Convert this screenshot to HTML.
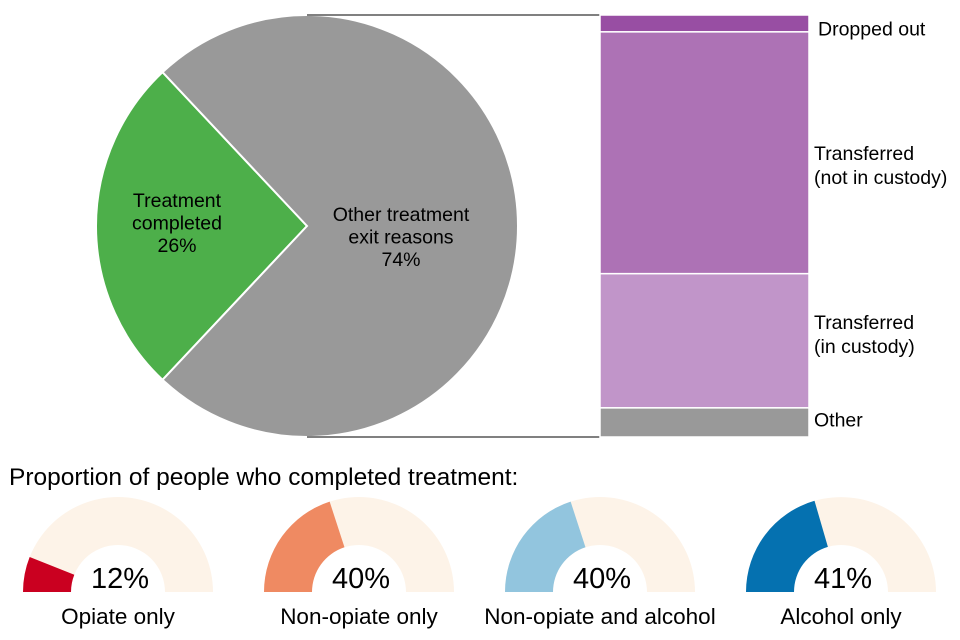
<!DOCTYPE html>
<html><head><meta charset="utf-8"><style>
body{margin:0;background:#fff;font-family:"Liberation Sans",Arial,sans-serif;}
svg{display:block}
</style></head><body>
<svg width="960" height="640">
<g id="pie"></g>
<g id="bar"></g>
<text x="9" y="485" font-size="24.5" fill="#000">Proportion of people who completed treatment:</text>
<g id="gauges"></g>
</svg>
<script>
const pieLabels=["Treatment completed","Other treatment exit reasons"];
const pieValues=[26,74];
const barCats=["Dropped out","Transferred (not in custody)","Transferred (in custody)","Other"];
const barValues=[4,57.3,31.8,6.9];
const gaugeCats=["Opiate only","Non-opiate only","Non-opiate and alcohol","Alcohol only"];
const gaugeValues=[12,40,40,41];

const NS="http://www.w3.org/2000/svg";
function mk(tag,attrs,parent){const e=document.createElementNS(NS,tag);for(const k in attrs)e.setAttribute(k,attrs[k]);parent.appendChild(e);return e;}
function txt(parent,x,y,lines,size,anchor,lh){const t=mk('text',{x:x,y:y,'font-size':size,'text-anchor':anchor,fill:'#000'},parent);lines.forEach((l,i)=>{const s=mk('tspan',{x:x,dy:i?lh:0},t);s.textContent=l;});return t;}

// pie
const pie=document.getElementById('pie');
const cx=307,cy=226,R=211;
const tot=pieValues.reduce((a,b)=>a+b,0);
const half=pieValues[0]/tot*Math.PI;
let a0=Math.PI-half;
const pieColors=["#4daf4a","#999999"];
pieValues.forEach((v,i)=>{
 const sweep=v/tot*2*Math.PI;
 const a1=a0+sweep;
 const x0=cx+R*Math.cos(a0),y0=cy-R*Math.sin(a0),x1=cx+R*Math.cos(a1),y1=cy-R*Math.sin(a1);
 const p=mk('path',{d:`M${cx},${cy}L${x0},${y0}A${R},${R} 0 ${sweep>Math.PI?1:0} 0 ${x1},${y1}Z`,fill:pieColors[i],stroke:'#fff','stroke-width':2},pie);
 
 
 a0=a1;
});
const l1=txt(pie,177,207,["Treatment","completed",pieValues[0]+"%"],19.5,'middle',22.5);


const l2=txt(pie,401,221,["Other treatment","exit reasons",pieValues[1]+"%"],19.5,'middle',22.5);



// stacked bar
const bar=document.getElementById('bar');
const bx=600,bw=209,by0=15,bh=422;
const btot=barValues.reduce((a,b)=>a+b,0);
mk('line',{x1:cx,y1:by0,x2:bx,y2:by0,stroke:'#000','stroke-width':1},bar);
mk('line',{x1:cx,y1:by0+bh,x2:bx,y2:by0+bh,stroke:'#000','stroke-width':1},bar);
const barColors=["#984ea3","#ad72b5","#c195c9","#999999"];
const labelShift=[1,12,-7,-3];
let yy=by0;
barValues.forEach((v,i)=>{
 const h=v/btot*bh;
 const r=mk('rect',{x:bx,y:yy,width:bw,height:h,fill:barColors[i],stroke:'#fff','stroke-width':1.5},bar);
 
 
 const mid=yy+h/2;
 let lines=barCats[i].indexOf('(')>0?[barCats[i].slice(0,barCats[i].indexOf(' (')),barCats[i].slice(barCats[i].indexOf('('))]:[barCats[i]];
 const t=txt(bar,i==0?818:814,mid+7-(lines.length-1)*12+(i==0?4:0)+labelShift[i],lines,19.5,'start',24);
 
 
 yy+=h;
});
// gauges
const g=document.getElementById('gauges');
const gcx=[118,359,600,841],gcy=592,GR=95,gr=47;
const gColors=["#ca0020","#ef8a62","#92c5de","#0571b0"];
function arc(c,a,b){
 const p=(r,t)=>[c+r*Math.cos(t),gcy-r*Math.sin(t)];
 const [x0,y0]=p(GR,a),[x1,y1]=p(GR,b),[x2,y2]=p(gr,b),[x3,y3]=p(gr,a);
 return `M${x0},${y0}A${GR},${GR} 0 0 1 ${x1},${y1}L${x2},${y2}A${gr},${gr} 0 0 0 ${x3},${y3}Z`;
}
gaugeValues.forEach((v,i)=>{
 const c=gcx[i];
 const bg=mk('path',{d:arc(c,Math.PI,0),fill:'#fdf3e8'},g);
 
 
 const end=Math.PI-v/100*Math.PI;
 const fg=mk('path',{d:arc(c,Math.PI,end),fill:gColors[i]},g);
 
 
 const pt=txt(g,c+2,588,[v+"%"],29,'middle',0);
 
 
 const lt=txt(g,c,624,[gaugeCats[i]],22.5,'middle',0);
 
 
});
</script>
</body></html>
